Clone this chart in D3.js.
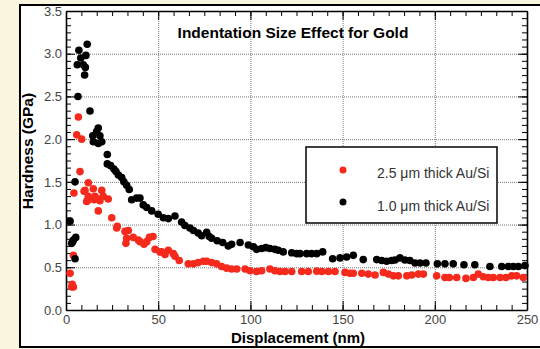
<!DOCTYPE html>
<html>
<head>
<meta charset="utf-8">
<script src="https://cdn.jsdelivr.net/npm/d3@7"></script>
<style>
  body { margin: 0; background: #f9f5df; }
  svg { display: block; }
  .axis path, .axis line { stroke: #000; }
  .axis text { fill: #444; font-family: "Liberation Sans", Arial, sans-serif; font-size: 13px; }
  .grid line { stroke: #777; stroke-dasharray: 1,1; }
  .grid path { display: none; }
</style>
</head>
<body>
<div id="chart"></div>
<script>
var svgWidth = 540;
var svgHeight = 349;

// 1.0 um thick Au/Si (black)
var thinX = [2.2, 3.1, 3.6, 4.0, 4.9, 5.3, 4.9, 6.5, 6.1, 7.0, 8.0, 9.4, 10.1, 10.5, 10.8, 11.5,
  13.0, 14.5, 14.8, 16.6, 17.5, 17.5, 18.4, 19.4, 22.4, 22.4, 24.2, 26.0, 27.1, 28.4, 30.2, 31.4,
  32.9, 34.3, 35.6, 38.3, 40.1, 41.9, 43.8, 46.5, 50.0, 52.8, 55.5, 59.1, 62.7, 64.5, 67.2, 69.1,
  71.7, 73.6, 76.3, 77.7, 79.0, 82.0, 85.0, 88.0, 89.8, 94.4, 98.9, 101.6, 103.4, 106.1, 108.4,
  110.6, 113.3, 115.1, 117.8, 122.4, 125.1, 126.9, 130.5, 133.2, 136.0, 139.2, 144.6, 148.6, 152.2,
  155.8, 161.2, 168.5, 171.2, 173.9, 176.6, 178.4, 181.1, 183.8, 186.5, 189.3, 192.0, 195.2, 201.4,
  205.5, 210.0, 215.8, 221.7, 229.9, 236.3, 239.9, 242.6, 245.3, 248.9];
var thinY = [1.04, 0.78, 0.80, 0.82, 0.60, 0.85, 1.50, 2.50, 2.87, 3.04, 2.95, 2.87, 2.75, 2.84, 2.98, 3.11,
  2.33, 2.04, 1.97, 2.09, 2.13, 1.95, 2.04, 1.97, 1.82, 1.71, 1.69, 1.65, 1.62, 1.58, 1.55, 1.50,
  1.46, 1.41, 1.29, 1.31, 1.31, 1.23, 1.20, 1.16, 1.12, 1.08, 1.07, 1.10, 1.03, 0.99, 0.96, 0.93,
  0.90, 0.87, 0.91, 0.86, 0.84, 0.81, 0.79, 0.75, 0.77, 0.79, 0.76, 0.74, 0.71, 0.72, 0.73,
  0.72, 0.71, 0.70, 0.68, 0.67, 0.66, 0.66, 0.66, 0.66, 0.66, 0.68, 0.60, 0.61, 0.62,
  0.64, 0.59, 0.59, 0.58, 0.57, 0.58, 0.585, 0.61, 0.585, 0.58, 0.55, 0.55, 0.55, 0.54,
  0.54, 0.54, 0.53, 0.53, 0.51, 0.51, 0.51, 0.51, 0.51, 0.52];

// 2.5 um thick Au/Si (red)
var thickX = [2.2, 3.1, 3.4, 4.0, 4.0, 4.3, 5.8, 6.7, 7.6, 8.5, 9.8, 10.3, 11.2, 11.6, 12.1, 12.1,
  14.8, 15.2, 15.7, 17.5, 17.5, 18.4, 19.4, 20.2, 22.9, 24.8, 27.5, 27.8, 32.0, 32.5, 32.9, 33.8,
  36.5, 39.2, 40.1, 42.3, 43.8, 45.2, 47.2, 48.3, 51.0, 51.9, 53.7, 55.5, 58.2, 59.1, 61.4, 66.3,
  69.1, 71.7, 74.5, 76.3, 79.0, 81.7, 84.4, 87.1, 89.8, 92.6, 97.1, 99.8, 103.4, 106.1, 110.6,
  113.3, 116.0, 118.8, 122.4, 127.8, 131.4, 136.0, 138.7, 142.3, 145.9, 151.3, 154.0, 155.8, 160.4,
  163.9, 167.6, 172.1, 174.8, 177.5, 180.2, 184.8, 187.5, 191.1, 193.8, 201.0, 205.5, 207.9, 211.9,
  216.9, 220.9, 223.6, 226.3, 229.0, 231.7, 235.4, 238.6, 241.7, 244.4, 248.0];
var thickY = [0.43, 0.27, 0.30, 0.27, 0.64, 1.37, 2.05, 2.26, 1.62, 2.00, 1.39, 1.40, 1.27, 1.28, 1.49, 1.33,
  1.42, 1.29, 1.33, 1.30, 1.16, 1.28, 1.40, 1.33, 1.30, 1.08, 0.96, 0.98, 0.92, 0.78, 0.84, 0.93,
  0.85, 0.82, 0.80, 0.77, 0.80, 0.85, 0.86, 0.71, 0.68, 0.68, 0.65, 0.70, 0.66, 0.63, 0.58, 0.54,
  0.54, 0.555, 0.57, 0.57, 0.555, 0.54, 0.51, 0.49, 0.48, 0.48, 0.48, 0.46, 0.45, 0.46, 0.48,
  0.46, 0.45, 0.45, 0.45, 0.45, 0.45, 0.455, 0.45, 0.45, 0.45, 0.44, 0.43, 0.43, 0.43,
  0.42, 0.41, 0.44, 0.42, 0.40, 0.40, 0.40, 0.41, 0.42, 0.42, 0.40, 0.38, 0.38, 0.38,
  0.37, 0.38, 0.42, 0.39, 0.38, 0.38, 0.38, 0.38, 0.40, 0.40, 0.38];

var xTicks = [0, 50, 100, 150, 200, 250];
var yTicks = [0, 0.5, 1.0, 1.5, 2.0, 2.5, 3.0, 3.5];
var seriesNames = ["2.5 \u03bcm thick Au/Si", "1.0 \u03bcm thick Au/Si"];
var seriesColors = ["#f52a1c", "#000000"];

var plot = { left: 66, right: 527, top: 11, bottom: 310 };

var svg = d3.select("#chart")
  .append("svg")
  .attr("width", svgWidth)
  .attr("height", svgHeight);

// white panel
svg.append("rect")
  .attr("x", 20).attr("y", 5)
  .attr("width", 540).attr("height", 342)
  .attr("fill", "#fff")
  .attr("stroke", "#000")
  .attr("stroke-width", 2);

var xScale = d3.scaleLinear().domain([0, 250]).range([plot.left, plot.right]);
var yScale = d3.scaleLinear().domain([0, 3.5]).range([plot.bottom, plot.top]);

var xMinor = d3.range(0, 250.01, 50 / 6);
var yMinor = d3.range(0, 3.501, 0.5 / 6);
var h = plot.bottom - plot.top;
var w = plot.right - plot.left;

// grid
svg.append("g")
  .attr("class", "grid")
  .attr("transform", `translate(0, ${plot.bottom})`)
  .call(d3.axisBottom(xScale).tickValues([50, 100, 150, 200]).tickSize(-h).tickFormat(""));
svg.append("g")
  .attr("class", "grid")
  .attr("transform", `translate(${plot.left}, 0)`)
  .call(d3.axisLeft(yScale).tickValues([0.5, 1, 1.5, 2, 2.5, 3]).tickSize(-w).tickFormat(""));

// minor ticks
function minor(g) { g.select(".domain").remove(); g.selectAll("line").attr("stroke-width", 1); }
svg.append("g").attr("class", "axis").attr("transform", `translate(0, ${plot.bottom})`)
  .call(d3.axisBottom(xScale).tickValues(xMinor).tickSize(-5).tickFormat("")).call(minor);
svg.append("g").attr("class", "axis").attr("transform", `translate(0, ${plot.top})`)
  .call(d3.axisTop(xScale).tickValues(xMinor).tickSize(-5).tickFormat("")).call(minor);
svg.append("g").attr("class", "axis").attr("transform", `translate(${plot.left}, 0)`)
  .call(d3.axisLeft(yScale).tickValues(yMinor).tickSize(-5).tickFormat("")).call(minor);
svg.append("g").attr("class", "axis").attr("transform", `translate(${plot.right}, 0)`)
  .call(d3.axisRight(yScale).tickValues(yMinor).tickSize(-5).tickFormat("")).call(minor);

// major axes
svg.append("g").attr("class", "axis")
  .attr("transform", `translate(0, ${plot.bottom})`)
  .call(d3.axisBottom(xScale).tickValues(xTicks).tickSize(-9).tickPadding(5).tickSizeOuter(0));
svg.append("g").attr("class", "axis")
  .attr("transform", `translate(0, ${plot.top})`)
  .call(d3.axisTop(xScale).tickValues(xTicks).tickSize(-9).tickFormat("").tickSizeOuter(0));
svg.append("g").attr("class", "axis")
  .attr("transform", `translate(${plot.left}, 0)`)
  .call(d3.axisLeft(yScale).tickValues(yTicks).tickSize(-9).tickPadding(4).tickSizeOuter(0)
    .tickFormat(d3.format(".1f")));
svg.append("g").attr("class", "axis")
  .attr("transform", `translate(${plot.right}, 0)`)
  .call(d3.axisRight(yScale).tickValues(yTicks).tickSize(-9).tickFormat("").tickSizeOuter(0));
svg.selectAll(".axis .domain").attr("stroke-width", 1.6);

// points
var thickData = thickX.map((x, i) => ({ x: x, y: thickY[i] }));
var thinData = thinX.map((x, i) => ({ x: x, y: thinY[i] }));

svg.append("g").selectAll("circle")
  .data(thickData)
  .enter()
  .append("circle")
  .attr("cx", d => xScale(d.x))
  .attr("cy", d => yScale(d.y))
  .attr("r", 3.8)
  .attr("fill", seriesColors[0]);

svg.append("g").selectAll("circle")
  .data(thinData)
  .enter()
  .append("circle")
  .attr("cx", d => xScale(d.x))
  .attr("cy", d => yScale(d.y))
  .attr("r", 3.8)
  .attr("fill", seriesColors[1]);

// title
svg.append("text")
  .attr("x", 293).attr("y", 38)
  .attr("text-anchor", "middle")
  .style("font-family", "Liberation Sans, Arial, sans-serif")
  .style("font-weight", "bold")
  .style("font-size", "15.5px")
  .text("Indentation Size Effect for Gold");

// legend
var legend = svg.append("g");
legend.append("rect")
  .attr("x", 306).attr("y", 147)
  .attr("width", 191).attr("height", 76)
  .attr("fill", "#fff")
  .attr("stroke", "#000")
  .attr("stroke-width", 1.5);
seriesNames.forEach(function(name, i) {
  legend.append("circle")
    .attr("cx", 343).attr("cy", 170 + i * 32)
    .attr("r", 3.5)
    .attr("fill", seriesColors[i]);
  legend.append("text")
    .attr("x", 377).attr("y", 178 + i * 33)
    .style("font-family", "Liberation Sans, Arial, sans-serif")
    .style("font-size", "14px")
    .attr("fill", "#333")
    .text(name);
});

// axis labels
svg.append("text")
  .attr("transform", "translate(33, 151) rotate(-90)")
  .attr("text-anchor", "middle")
  .style("font-family", "Liberation Sans, Arial, sans-serif")
  .style("font-weight", "bold")
  .style("font-size", "15.5px")
  .text("Hardness (GPa)");

svg.append("text")
  .attr("x", 298).attr("y", 343)
  .attr("text-anchor", "middle")
  .style("font-family", "Liberation Sans, Arial, sans-serif")
  .style("font-weight", "bold")
  .style("font-size", "15px")
  .text("Displacement (nm)");
</script>
</body>
</html>
